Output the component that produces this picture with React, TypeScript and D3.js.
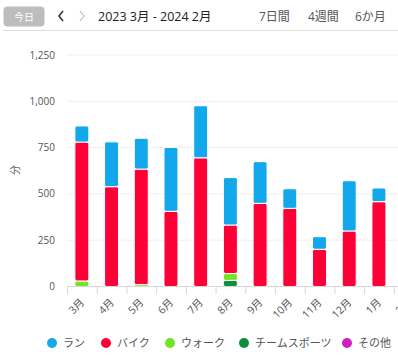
import React from 'react';
import * as d3 from 'd3';

// months on the x axis
const months = ['3月', '4月', '5月', '6月', '7月', '8月', '9月', '10月', '11月', '12月', '1月', '2月'];

// minutes per activity
const teamSports = [0, 0, 0, 0, 0, 33, 0, 0, 0, 0, 0, 0];
const walk = [30, 0, 10, 0, 0, 37, 0, 0, 0, 0, 0, 0];
const bike = [750, 539, 624, 406, 695, 262, 449, 422, 201, 300, 458, 0];
const run = [87, 242, 166, 345, 281, 256, 225, 106, 68, 271, 74, 0];
const other = [0, 0, 0, 0, 0, 0, 0, 0, 0, 0, 0, 0];

const yTicks = [0, 250, 500, 750, 1000, 1250];

const legendItems = [
  { key: 'run', label: 'ラン', color: '#13a8eb' },
  { key: 'bike', label: 'バイク', color: '#ff0036' },
  { key: 'walk', label: 'ウォーク', color: '#72e327' },
  { key: 'team', label: 'チームスポーツ', color: '#0d8e3d' },
  { key: 'other', label: 'その他', color: '#cc22bb' },
];

const width = 398;
const height = 363;
const font = '"Open Sans", "Noto Sans CJK JP", sans-serif';

export default function App() {
  // stack order from the bottom
  const table = months.map((m, i) => ({
    month: m,
    team: teamSports[i],
    walk: walk[i],
    bike: bike[i],
    run: run[i],
    other: other[i],
  }));
  const keys = ['team', 'walk', 'bike', 'run', 'other'];
  const colors: Record<string, string> = {};
  legendItems.forEach(d => (colors[d.key] = d.color));

  const series = d3.stack<any>().keys(keys)(table);

  const x = d3.scaleBand().domain(months).range([67, 423.5]).paddingInner(0.53).paddingOuter(0.265);
  const xBand = d3.scaleBand().domain(months).range([67, 423.5]);
  const y = d3.scaleLinear().domain([0, 1250]).range([286.5, 55]);

  return (
    <div style={{ position: 'absolute', left: 0, top: 0 }}>
      <svg width={width} height={height} style={{ display: 'block', fontFamily: font }}>
        <rect width={width} height={height} fill="#fff" />

        {/* header */}
        <rect x={3.5} y={6.5} width={41} height={20} rx={4} fill="#bdbdbd" />
        <text x={24} y={20.5} fontSize={10} fill="#fff" textAnchor="middle">今日</text>
        <polyline points="63,11 59,16 63,21" fill="none" stroke="#333" strokeWidth={1.6} />
        <polyline points="80,11 84,16 80,21" fill="none" stroke="#bbb" strokeWidth={1.2} />
        <text x={98} y={21} fontSize={12.5} fill="#222">2023 3月 - 2024 2月</text>
        <text x={259} y={21} fontSize={12} fill="#555">7日間</text>
        <text x={308} y={21} fontSize={12} fill="#555">4週間</text>
        <text x={355} y={21} fontSize={12} fill="#555">6か月</text>
        <line x1={3} x2={398} y1={30.5} y2={30.5} stroke="#ddd" />

        {/* grid + y labels */}
        {yTicks.map(t => (
          <g key={t}>
            {t > 0 && <line x1={67} x2={width} y1={y(t)} y2={y(t)} stroke="#eee" />}
            <text x={55} y={y(t) + 3.5} fontSize={10} fill="#555" textAnchor="end">
              {d3.format(',')(t)}
            </text>
          </g>
        ))}
        <text transform="translate(19,170) rotate(-90)" fontSize={10} fill="#555" textAnchor="middle">分</text>

        {/* bars */}
        {series.map(s => (
          <g key={s.key} fill={colors[s.key]}>
            {s.map((d, i) =>
              d[1] - d[0] > 0 ? (
                <rect
                  key={i}
                  x={x(months[i])}
                  y={y(d[1])}
                  width={x.bandwidth()}
                  height={y(d[0]) - y(d[1])}
                  rx={2}
                  stroke="#fff"
                  strokeWidth={1}
                />
              ) : null
            )}
          </g>
        ))}

        {/* x axis */}
        <line x1={67} x2={width} y1={286.5} y2={286.5} stroke="#d8d8d8" />
        {months.map(m => (
          <line key={m} x1={xBand(m)! + 0.5} x2={xBand(m)! + 0.5} y1={286.5} y2={294} stroke="#d8d8d8" />
        ))}
        {months.map(m => {
          const cx = xBand(m)! + xBand.bandwidth() / 2 + 3;
          return (
            <text key={m} transform={`translate(${cx},303) rotate(-45)`} fontSize={10.5} fill="#555" textAnchor="end">
              {m}
            </text>
          );
        })}

        {/* legend */}
        {legendItems.map((d, i) => {
          const cx = [52, 106, 170, 244, 347][i];
          return (
            <g key={d.key}>
              <circle cx={cx} cy={343} r={5} fill={d.color} />
              <text x={cx + 11} y={347} fontSize={11} fill="#555">{d.label}</text>
            </g>
          );
        })}
      </svg>
    </div>
  );
}
